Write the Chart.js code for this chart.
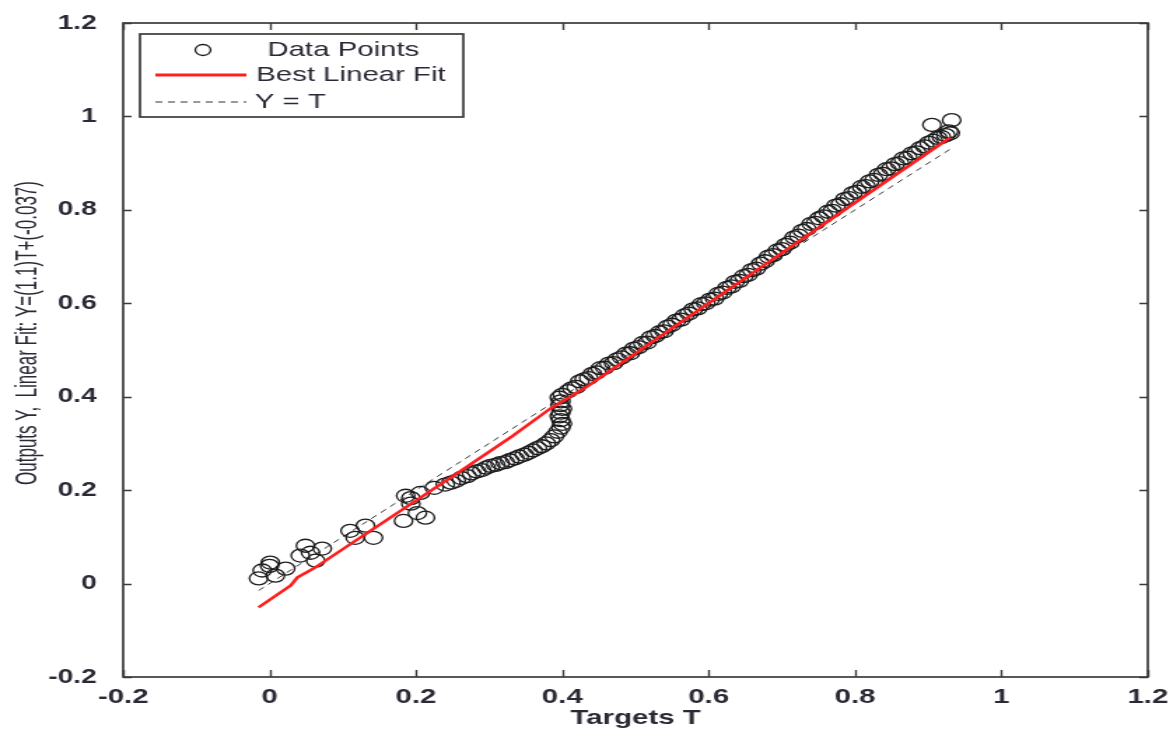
<!DOCTYPE html>
<html>
<head>
<meta charset="utf-8">
<title>Regression: Outputs vs Targets</title>
<script src="https://cdn.jsdelivr.net/npm/chart.js@4.4.1/dist/chart.umd.min.js"></script>
<style>
  html, body { margin: 0; padding: 0; background: #fff; overflow: hidden; }
  #wrap { width: 1173px; height: 731px; }
  /* the figure is drawn narrow and stretched sideways, like the exported plot */
  #chart { transform: scaleX(1.39976); transform-origin: 0 0; }
</style>
</head>
<body>
<div id="wrap"><canvas id="chart" width="838" height="731"></canvas></div>
<script>
// Targets T and network outputs Y
const targetsT = [
  -0.015, -0.010, 0.001, 0.008, 0.022, 0.000, 0.042, 0.049, 0.056, 0.063, 0.072,
  0.110, 0.117, 0.131, 0.142, 0.183, 0.186, 0.193, 0.193, 0.202, 0.206, 0.213, 0.225, 0.240,
  0.248, 0.255, 0.262, 0.270, 0.276, 0.283, 0.290, 0.296, 0.302, 0.309, 0.315, 0.322,
  0.328, 0.335, 0.341, 0.348, 0.354, 0.360, 0.366, 0.372, 0.378, 0.384, 0.389,
  0.394, 0.398, 0.400, 0.398, 0.396, 0.398, 0.400, 0.397, 0.398, 0.396, 0.400,
  0.408, 0.413, 0.419, 0.424, 0.430, 0.436, 0.441, 0.447, 0.452, 0.458, 0.464, 0.470,
  0.475, 0.481, 0.487, 0.493, 0.498, 0.504, 0.510, 0.516, 0.521, 0.527, 0.533, 0.539,
  0.544, 0.550, 0.556, 0.562, 0.567, 0.573, 0.579, 0.585, 0.590, 0.596, 0.602, 0.608,
  0.613, 0.619, 0.625, 0.631, 0.636, 0.642, 0.648, 0.654, 0.659, 0.665, 0.671, 0.677,
  0.682, 0.688, 0.694, 0.700, 0.705, 0.711, 0.717, 0.723, 0.728, 0.734, 0.740, 0.746,
  0.751, 0.757, 0.763, 0.769, 0.774, 0.780, 0.786, 0.792, 0.797, 0.803, 0.809, 0.815,
  0.820, 0.826, 0.832, 0.838, 0.843, 0.849, 0.855, 0.861, 0.866, 0.872, 0.878, 0.884,
  0.889, 0.895, 0.901, 0.907, 0.913, 0.918, 0.924, 0.930, 0.905, 0.932, 0.928
];
const outputsY = [
  0.011, 0.028, 0.045, 0.017, 0.032, 0.038, 0.060, 0.081, 0.066, 0.049, 0.075,
  0.113, 0.098, 0.124, 0.098, 0.134, 0.188, 0.171, 0.183, 0.151, 0.194, 0.141, 0.205, 0.212,
  0.216, 0.220, 0.226, 0.230, 0.236, 0.240, 0.243, 0.248, 0.252, 0.254, 0.258, 0.260,
  0.264, 0.268, 0.272, 0.276, 0.280, 0.285, 0.290, 0.294, 0.300, 0.307, 0.315,
  0.325, 0.334, 0.342, 0.350, 0.358, 0.366, 0.374, 0.382, 0.390, 0.398, 0.404,
  0.412, 0.418, 0.421, 0.433, 0.437, 0.440, 0.449, 0.452, 0.461, 0.462, 0.471, 0.472,
  0.480, 0.484, 0.492, 0.493, 0.503, 0.506, 0.515, 0.516, 0.527, 0.530, 0.538, 0.540,
  0.550, 0.554, 0.563, 0.565, 0.574, 0.578, 0.587, 0.589, 0.598, 0.600, 0.608, 0.610,
  0.620, 0.623, 0.633, 0.636, 0.646, 0.648, 0.658, 0.661, 0.671, 0.674, 0.685, 0.690,
  0.700, 0.703, 0.713, 0.716, 0.725, 0.730, 0.741, 0.745, 0.755, 0.759, 0.770, 0.772,
  0.782, 0.786, 0.796, 0.798, 0.809, 0.812, 0.823, 0.825, 0.836, 0.839, 0.849, 0.851,
  0.861, 0.864, 0.875, 0.877, 0.887, 0.889, 0.898, 0.900, 0.910, 0.912, 0.921, 0.923,
  0.932, 0.936, 0.944, 0.948, 0.954, 0.956, 0.960, 0.964, 0.982, 0.992, 0.968
];

// fitted line, as plotted against the sorted targets
const fitT = [-0.015, 0.029, 0.038, 0.060, 0.261, 0.332, 0.384, 0.434, 0.930];
const fitY = [-0.051, -0.004, 0.013, 0.032, 0.241, 0.316, 0.375, 0.422, 0.955];

// Y = T reference
const identityT = [-0.015, 0.930];

const xTicks = [-0.2, 0, 0.2, 0.4, 0.6, 0.8, 1, 1.2];
const yTicks = [-0.2, 0, 0.2, 0.4, 0.6, 0.8, 1, 1.2];

const yTitle = 'Outputs Y,  Linear Fit: Y=(1.1)T+(-0.037)';
const FONT = '"Liberation Sans", Arial, sans-serif';
const INK = '#2a2a36';

const toPoints = (xs, ys) => xs.map((x, i) => ({ x: x, y: ys[i] }));
const fmt = (v) => String(+Number(v).toFixed(1));

// axes box with inward ticks, legend and the y label
const frame = {
  id: 'frame',
  afterDatasetsDraw(chart) {
    const { ctx, chartArea: a, scales } = chart;
    ctx.save();
    ctx.strokeStyle = '#3a3a3a';
    ctx.lineWidth = 1.4;
    ctx.beginPath();
    xTicks.forEach((v) => {
      const px = Math.round(scales.x.getPixelForValue(v)) + 0.5;
      ctx.moveTo(px, a.bottom); ctx.lineTo(px, a.bottom - 7);
      ctx.moveTo(px, a.top); ctx.lineTo(px, a.top + 7);
    });
    yTicks.forEach((v) => {
      const py = Math.round(scales.y.getPixelForValue(v)) + 0.5;
      ctx.moveTo(a.left, py); ctx.lineTo(a.left + 6, py);
      ctx.moveTo(a.right, py); ctx.lineTo(a.right - 6, py);
    });
    ctx.stroke();
    ctx.lineWidth = 1.7;
    ctx.strokeRect(a.left, a.top, a.right - a.left, a.bottom - a.top);
    ctx.restore();
  },
  afterDraw(chart) {
    const { ctx, chartArea: a } = chart;
    const ds = chart.data.datasets;
    const bx = a.left + 12, by = a.top + 11, bw = 231, bh = 83;
    ctx.save();
    ctx.fillStyle = '#fff';
    ctx.fillRect(bx, by, bw, bh);
    ctx.strokeStyle = '#3a3a3a';
    ctx.lineWidth = 1.7;
    ctx.strokeRect(bx, by, bw, bh);

    const rows = [by + 16, by + 41, by + 68];
    const l0 = bx + 11, l1 = bx + 76;

    // Data Points
    ctx.beginPath();
    ctx.strokeStyle = ds[1].pointBorderColor;
    ctx.lineWidth = 1.3;
    ctx.arc(bx + 45, rows[0], 5.5, 0, Math.PI * 2);
    ctx.stroke();
    // Best Linear Fit
    ctx.beginPath();
    ctx.strokeStyle = ds[0].borderColor;
    ctx.lineWidth = 3;
    ctx.moveTo(l0, rows[1]); ctx.lineTo(l1, rows[1]);
    ctx.stroke();
    // Y = T
    ctx.beginPath();
    ctx.strokeStyle = ds[2].borderColor;
    ctx.lineWidth = 1;
    ctx.setLineDash(ds[2].borderDash);
    ctx.moveTo(l0, rows[2]); ctx.lineTo(l1, rows[2]);
    ctx.stroke();
    ctx.setLineDash([]);

    ctx.fillStyle = INK;
    ctx.font = '21px ' + FONT;
    ctx.textBaseline = 'middle';
    ctx.textAlign = 'left';
    ctx.fillText(ds[1].label, bx + 91, rows[0]);
    ctx.fillText(ds[0].label, bx + 83, rows[1]);
    ctx.fillText(ds[2].label, bx + 82, rows[2]);

    // rotated y label, glyphs a little taller across
    ctx.translate(20, 333);
    ctx.rotate(-Math.PI / 2);
    ctx.scale(1, 1.25);
    ctx.textAlign = 'center';
    ctx.font = '17px ' + FONT;
    ctx.fillText(yTitle, 0, 0);
    ctx.restore();
  }
};

new Chart(document.getElementById('chart'), {
  type: 'scatter',
  data: {
    datasets: [
      {
        label: 'Best Linear Fit',
        data: toPoints(fitT, fitY),
        showLine: true,
        borderColor: '#ff1e1e',
        borderWidth: 2.6,
        pointRadius: 0,
        order: 0
      },
      {
        label: 'Data Points',
        data: toPoints(targetsT, outputsY),
        showLine: false,
        pointStyle: 'circle',
        pointRadius: 6.5,
        pointBorderColor: '#1c1c1c',
        pointBorderWidth: 1.3,
        pointBackgroundColor: 'rgba(255,255,255,0)',
        order: 1
      },
      {
        label: 'Y = T',
        data: toPoints(identityT, identityT),
        showLine: true,
        borderColor: '#333333',
        borderWidth: 1,
        borderDash: [5, 4],
        pointRadius: 0,
        order: 2
      }
    ]
  },
  options: {
    responsive: false,
    animation: false,
    events: [],
    layout: { padding: { top: 21, right: 18, left: 0, bottom: 0 } },
    plugins: {
      legend: { display: false },
      tooltip: { enabled: false }
    },
    scales: {
      x: {
        type: 'linear',
        min: -0.2,
        max: 1.2,
        afterBuildTicks: (s) => { s.ticks = xTicks.map((v) => ({ value: v })); },
        afterFit: (s) => { s.height = 54; },
        grid: { display: false },
        border: { display: false },
        ticks: {
          callback: fmt,
          autoSkip: false,
          maxRotation: 0,
          padding: 0,
          color: INK,
          font: { family: FONT, size: 21, weight: 'bold' }
        },
        title: {
          display: true,
          text: 'Targets T',
          color: INK,
          padding: { top: 0, bottom: 0 },
          font: { family: FONT, size: 21, weight: 'bold' }
        }
      },
      y: {
        type: 'linear',
        min: -0.2,
        max: 1.2,
        afterBuildTicks: (s) => { s.ticks = yTicks.map((v) => ({ value: v })); },
        afterFit: (s) => { s.width = 88; },
        grid: { display: false },
        border: { display: false },
        ticks: {
          callback: fmt,
          autoSkip: false,
          padding: 11,
          color: INK,
          font: { family: FONT, size: 20, weight: 'bold' }
        }
      }
    }
  },
  plugins: [frame]
});
</script>
</body>
</html>
